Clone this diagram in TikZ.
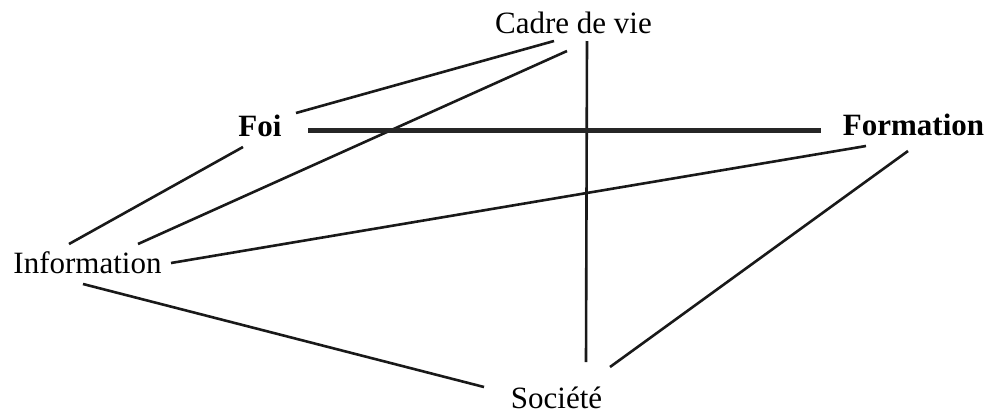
\documentclass[tikz,border=0pt]{standalone}
\usepackage{fontspec}
\setmainfont{Liberation Serif}
\begin{document}
\begin{tikzpicture}[x=1pt,y=-1pt,
  lbl/.style={anchor=base,inner sep=0pt,font=\fontsize{31}{37}\selectfont},
  blbl/.style={lbl,font=\fontsize{31}{37}\selectfont\bfseries},
  thin/.style={line width=2.6pt,color=black!90},
  thick/.style={line width=5.5pt,color=black!85}]
\useasboundingbox (0,0) rectangle (988,413);
% labels
\node[lbl]  (cadre) at (573.5,33) {Cadre de vie};
\node[blbl] (foi)   at (260,136) {Foi};
\node[blbl] (form)  at (913.5,135) {Formation};
\node[lbl]  (info)  at (87.5,273) {Information};
\node[lbl]  (soc)   at (556.5,408) {Société};
% connector end points
\coordinate (cadreA) at (554,41);
\coordinate (cadreB) at (567,51);
\coordinate (cadreC) at (587,41);
\coordinate (foiA)   at (296,113);
\coordinate (foiB)   at (308,130.5);
\coordinate (foiC)   at (243,147);
\coordinate (formA)  at (821,130.5);
\coordinate (formB)  at (866,146);
\coordinate (formC)  at (908,151);
\coordinate (infoA)  at (69,244);
\coordinate (infoB)  at (138,244);
\coordinate (infoC)  at (171,263);
\coordinate (infoD)  at (83,284);
\coordinate (socA)   at (586,362);
\coordinate (socB)   at (610,367);
\coordinate (socC)   at (484,387);
% connectors
\draw[thin] (cadreA) -- (foiA);
\draw[thin] (cadreB) -- (infoB);
\draw[thin] (cadreC) -- (socA);
\draw[thick] (foiB) -- (formA);
\draw[thin] (foiC) -- (infoA);
\draw[thin] (infoC) -- (formB);
\draw[thin] (formC) -- (socB);
\draw[thin] (infoD) -- (socC);
\end{tikzpicture}
\end{document}
